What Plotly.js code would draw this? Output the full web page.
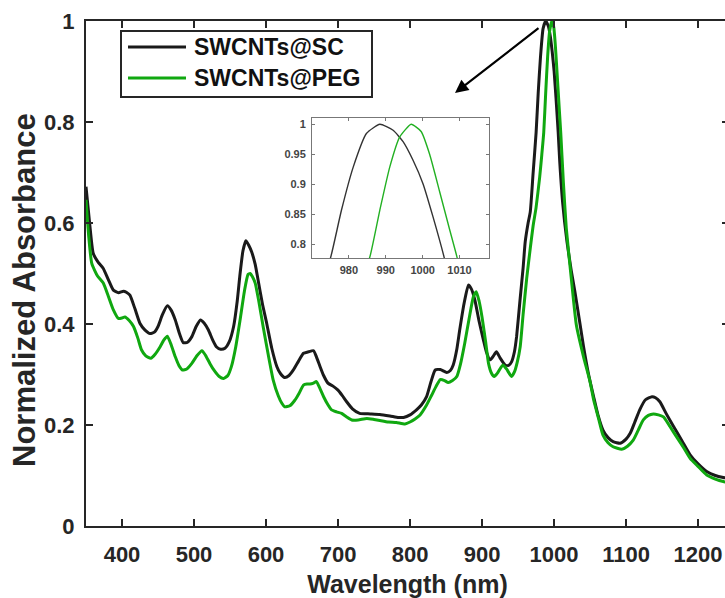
<!DOCTYPE html>
<html>
<head>
<meta charset="utf-8">
<script src="https://cdn.plot.ly/plotly-3.0.1.min.js"></script>
<style>
html,body{margin:0;padding:0;background:#fff;overflow:hidden;width:725px;height:598px;}
#chart{width:729px;height:598px;}
</style>
</head>
<body>
<div id="chart"></div>
<script>
// ---- Data ----
const scWavelength = [350,355,360,367,374,381,388,395,402,406,411,418,425,432,439,445,450,456,463,468,474,480,485,491,497,503,509,514,520,526,531,537,543,549,555,560,564,568,572,576,580,585,589,595,601,608,615,620,626,632,638,645,652,659,666,670,675,680,686,693,700,706,712,720,730,745,758,772,784,791,800,809,816,823,829,835,842,851,856,860,865,869,875,881,885,890,896,902,906,911,915,920,925,932,937,941,945,948,953,957,960,964,967,971,975.1,978,981.2,984.8,988.4,992,994.7,997.4,1000.1,1002.8,1005.8,1008,1012,1018,1024,1029,1035,1041,1048,1055,1061,1068,1075,1082,1092,1100,1106,1112,1119,1127,1136,1141,1147,1156,1166,1178,1189,1200,1212,1224,1235,1243];
const scAbsorbance = [0.672,0.600,0.540,0.522,0.510,0.488,0.467,0.462,0.465,0.463,0.457,0.430,0.401,0.388,0.381,0.384,0.395,0.418,0.436,0.428,0.408,0.380,0.363,0.364,0.375,0.395,0.408,0.402,0.388,0.368,0.355,0.350,0.352,0.365,0.395,0.445,0.500,0.545,0.565,0.556,0.543,0.518,0.487,0.440,0.401,0.352,0.316,0.302,0.294,0.298,0.309,0.326,0.342,0.345,0.347,0.335,0.316,0.298,0.283,0.277,0.269,0.258,0.246,0.232,0.223,0.222,0.221,0.218,0.215,0.215,0.220,0.230,0.240,0.256,0.285,0.309,0.310,0.304,0.308,0.319,0.350,0.388,0.440,0.477,0.470,0.448,0.405,0.368,0.345,0.329,0.335,0.345,0.333,0.319,0.318,0.325,0.345,0.375,0.451,0.510,0.563,0.600,0.622,0.700,0.779,0.857,0.929,0.985,1.000,0.990,0.971,0.940,0.901,0.846,0.779,0.720,0.640,0.563,0.505,0.464,0.410,0.355,0.300,0.256,0.220,0.190,0.175,0.167,0.164,0.172,0.184,0.205,0.230,0.250,0.256,0.254,0.246,0.222,0.197,0.168,0.141,0.123,0.108,0.100,0.096,0.094];

const pegWavelength = [350,354,358,366,374,381,388,395,400,404,410,416,422,427,433,440,446,453,458,463,468,474,479,484,490,497,504,511,516,522,528,535,541,547,552,558,564,570,575,578,581,585,590,596,603,610,617,622,626,633,640,646,652,657,661,666,670,675,680,686,691,698,705,712,719,728,740,750,758,770,781,793,800,807,814,822,830,836,842,848,853,859,865,870,876,882,888,892,896,900,905,909,913,917,922,929,934,941,945,949,953,957,962,967,971,975,980,983,985.7,988.4,991.1,993.8,996.9,999.6,1001.9,1004.6,1007.3,1009.3,1013,1017,1024,1031,1041,1050,1055,1062,1068,1075,1082,1094,1102,1110,1117,1124,1131,1138,1145,1152,1161,1170,1180,1189,1200,1212,1224,1235,1243];
const pegAbsorbance = [0.646,0.570,0.520,0.495,0.481,0.455,0.428,0.411,0.412,0.414,0.407,0.395,0.372,0.349,0.337,0.332,0.340,0.355,0.368,0.376,0.360,0.335,0.318,0.309,0.311,0.322,0.337,0.347,0.338,0.322,0.308,0.296,0.292,0.298,0.316,0.355,0.408,0.465,0.498,0.500,0.494,0.481,0.445,0.395,0.340,0.289,0.258,0.243,0.236,0.238,0.249,0.263,0.279,0.281,0.281,0.283,0.286,0.272,0.256,0.240,0.230,0.226,0.223,0.216,0.210,0.210,0.213,0.211,0.209,0.206,0.205,0.202,0.206,0.212,0.220,0.237,0.259,0.276,0.290,0.288,0.284,0.288,0.296,0.320,0.362,0.410,0.454,0.464,0.445,0.414,0.365,0.322,0.303,0.296,0.304,0.319,0.311,0.296,0.305,0.325,0.355,0.418,0.490,0.550,0.595,0.630,0.690,0.735,0.779,0.857,0.929,0.979,1.000,0.988,0.950,0.888,0.825,0.779,0.680,0.590,0.490,0.398,0.335,0.286,0.250,0.212,0.180,0.165,0.157,0.152,0.158,0.170,0.190,0.210,0.219,0.222,0.220,0.216,0.197,0.177,0.155,0.134,0.118,0.101,0.093,0.088,0.086];

const seriesNames = ['SWCNTs@SC', 'SWCNTs@PEG'];
const mainXTicks = [400,500,600,700,800,900,1000,1100,1200];
const mainYTicks = [0,0.2,0.4,0.6,0.8,1];
const insetXTicks = [980,990,1000,1010];
const insetYTicks = [0.8,0.85,0.9,0.95,1];
const xTitle = 'Wavelength (nm)';
const yTitle = 'Normalized Absorbance';

// ---- Styling ----
const FONT = 'Liberation Sans, Arial, Helvetica, sans-serif';
const AX = '#262626';
const BLACK = '#1a1a1a';
const GREEN = '#10a810';

const traces = [
  {x: scWavelength, y: scAbsorbance, name: seriesNames[0], mode: 'lines', line: {color: BLACK, width: 3, shape: 'spline', smoothing: 0.5}, xaxis: 'x', yaxis: 'y'},
  {x: pegWavelength, y: pegAbsorbance, name: seriesNames[1], mode: 'lines', line: {color: GREEN, width: 3, shape: 'spline', smoothing: 0.5}, xaxis: 'x', yaxis: 'y'},
  {x: scWavelength, y: scAbsorbance, name: seriesNames[0], mode: 'lines', line: {color: '#333333', width: 1.4, shape: 'spline', smoothing: 0.5}, xaxis: 'x2', yaxis: 'y2'},
  {x: pegWavelength, y: pegAbsorbance, name: seriesNames[1], mode: 'lines', line: {color: '#22b022', width: 1.4, shape: 'spline', smoothing: 0.5}, xaxis: 'x2', yaxis: 'y2'}
];

// plot area in px: left 86, right 729, top 21, bottom 526
const PL = 86, PR = 729, PT = 21, PB = 526;
const px = v => (v - PL) / (PR - PL);
const py = v => (PB - v) / (PB - PT);

const layout = {
  width: 729, height: 598,
  margin: {l: PL, r: 729 - PR, t: PT, b: 598 - PB},
  paper_bgcolor: '#ffffff', plot_bgcolor: '#ffffff',
  showlegend: false,
  font: {family: FONT, color: AX},
  xaxis: {
    range: [350, 1243], tickvals: mainXTicks, ticks: 'inside', ticklen: 7, tickwidth: 2, tickcolor: AX,
    showline: true, linewidth: 2, linecolor: AX, mirror: 'ticks', showgrid: false, zeroline: false,
    tickfont: {family: FONT, size: 22, weight: 'bold', color: AX}, ticklabelstandoff: 8,
    title: {text: xTitle, font: {family: FONT, size: 25, weight: 'bold', color: AX}, standoff: 10}
  },
  yaxis: {
    range: [0, 1], tickvals: mainYTicks, ticks: 'inside', ticklen: 7, tickwidth: 2, tickcolor: AX,
    showline: true, linewidth: 2, linecolor: AX, mirror: 'ticks', showgrid: false, zeroline: false,
    tickfont: {family: FONT, size: 22, weight: 'bold', color: AX}, ticklabelstandoff: 5
  },
  xaxis2: {
    domain: [px(312), px(489)], anchor: 'y2', range: [970, 1018], tickvals: insetXTicks,
    ticks: 'inside', ticklen: 3, tickwidth: 1, tickcolor: '#777',
    showline: true, linewidth: 1, linecolor: '#777', mirror: 'ticks', showgrid: false, zeroline: false,
    tickfont: {family: FONT, size: 11, weight: 'bold', color: '#444'}, ticklabelstandoff: 2
  },
  yaxis2: {
    domain: [py(258), py(118)], anchor: 'x2', range: [0.777, 1.0105], tickvals: insetYTicks,
    ticks: 'inside', ticklen: 3, tickwidth: 1, tickcolor: '#777',
    showline: true, linewidth: 1, linecolor: '#777', mirror: 'ticks', showgrid: false, zeroline: false,
    tickfont: {family: FONT, size: 11, weight: 'bold', color: '#444'}, ticklabelstandoff: 3
  },
  shapes: [
    {type: 'rect', xref: 'paper', yref: 'paper', x0: px(121), x1: px(372), y0: py(97), y1: py(31),
     line: {color: AX, width: 2}, fillcolor: '#ffffff'},
    {type: 'line', xref: 'paper', yref: 'paper', x0: px(128), x1: px(186), y0: py(47), y1: py(47),
     line: {color: BLACK, width: 3}},
    {type: 'line', xref: 'paper', yref: 'paper', x0: px(128), x1: px(186), y0: py(78), y1: py(78),
     line: {color: GREEN, width: 3}}
  ],
  annotations: [
    {xref: 'paper', yref: 'paper', x: px(24), y: py(290), xanchor: 'center', yanchor: 'middle', showarrow: false,
     textangle: -90, text: yTitle, font: {family: FONT, size: 31, weight: 'bold', color: AX}},
    {xref: 'paper', yref: 'paper', x: px(192), y: py(47), xanchor: 'left', yanchor: 'middle', showarrow: false,
     text: seriesNames[0], font: {family: FONT, size: 23, weight: 'bold', color: '#111'}},
    {xref: 'paper', yref: 'paper', x: px(192), y: py(78), xanchor: 'left', yanchor: 'middle', showarrow: false,
     text: seriesNames[1], font: {family: FONT, size: 23, weight: 'bold', color: '#111'}},
    {xref: 'paper', yref: 'paper', x: px(455), y: py(93), axref: 'paper', ayref: 'paper', ax: px(540), ay: py(27),
     text: '', showarrow: true, arrowhead: 2, arrowsize: 1.2, arrowwidth: 2.2, arrowcolor: '#000', standoff: 0, startstandoff: 0}
  ]
};

Plotly.newPlot('chart', traces, layout, {staticPlot: true, displayModeBar: false});
</script>
</body>
</html>
